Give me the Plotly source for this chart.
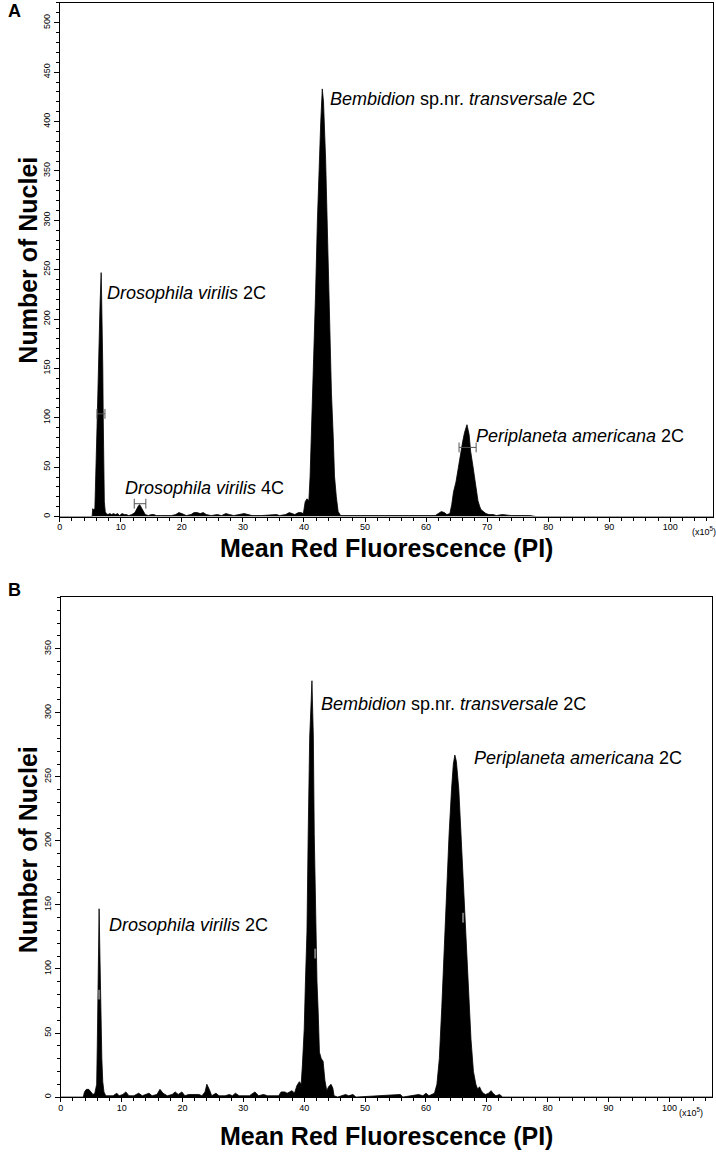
import plotly.graph_objects as go

W, H = 716, 1153

# ---------------- Panel A data (fluorescence x10^5, number of nuclei) ----------------
a_x = [0, 5.3, 5.4, 5.5, 5.75, 5.85, 5.95, 6.1, 6.25, 6.35,
       6.5, 6.6, 6.7, 6.78, 6.85, 6.95, 7.05, 7.12, 7.2, 7.3,
       7.45, 7.6, 7.9, 8.2, 8.5, 8.8, 9.1, 9.5, 9.8, 10.2,
       10.6, 10.9, 11.3, 11.8, 12.3, 12.6, 12.9, 13.1, 13.3, 13.6,
       14.0, 14.5, 15.0, 15.4, 15.8, 16.5, 17.6, 18.3, 19.0, 19.5,
       20.0, 20.7, 21.5, 22.0, 22.5, 23.0, 23.5, 24.0, 24.8, 25.8,
       26.5, 27.2, 27.8, 28.5, 30.2, 30.8, 31.5, 33.0, 35.0, 35.5,
       36.0, 37.0, 37.6, 38.0, 38.5, 39.1, 39.5, 39.9, 40.05, 40.2,
       40.5, 40.8, 41.0, 41.2, 41.5, 41.9, 42.2, 42.5, 42.75, 43.0,
       43.2, 43.55, 43.8, 44.05, 44.3, 44.5, 44.8, 45.0, 45.3, 45.6,
       46.0, 47.5, 51.0, 55.5, 60.0, 61.5, 62.0, 62.5, 63.0, 63.4,
       63.9, 64.2, 64.5, 64.9, 65.3, 65.7, 66.0, 66.3, 66.7, 67.05,
       67.3, 67.7, 68.0, 68.2, 68.5, 68.8, 69.0, 69.4, 69.8, 70.3,
       71.0, 71.5, 72.5, 74.0, 76.0, 77.0, 78.0, 107]
a_y = [0, 0, 8, 7, 8, 25, 55, 90, 120, 150,
       190, 215, 240, 247, 225, 200, 150, 100, 50, 15,
       5, 3, 2, 3, 2, 3, 2, 3, 1, 3,
       2, 2, 1, 2, 4, 8, 11, 12, 10, 6,
       2, 1, 2, 2, 1, 1, 1, 1, 2, 4,
       3, 1, 2, 4, 4, 3, 4, 2, 1, 2,
       1, 3, 2, 1, 3, 2, 1, 1, 2, 2,
       1, 2, 4, 3, 2, 4, 4, 3, 8, 15,
       18, 16, 40, 80, 125, 226, 300, 361, 400, 433,
       420, 361, 290, 226, 180, 125, 80, 41, 20, 5,
       1, 1, 1, 1, 1, 1, 3, 5, 4, 2,
       3, 12, 25, 35, 50, 66, 76, 85, 93, 83,
       66, 50, 35, 30, 16, 10, 7, 5, 3, 2,
       2, 1, 2, 1, 1, 1, 0, 0]

# gates (range markers) in panel A
a_gate_lo = [6.1, 12.2, 65.4]
a_gate_hi = [7.4, 14.1, 68.2]
a_gate_y = [104, 13, 70]

# ---------------- Panel B data ----------------
b_x = [0, 3.7, 3.9, 4.2, 4.6, 5.0, 5.3, 5.6, 5.9, 6.0,
       6.1, 6.2, 6.3, 6.4, 6.5, 6.6, 6.75, 6.9, 7.1, 7.4,
       8.0, 8.6, 9.2, 9.6, 10.2, 10.7, 11.2, 12.0, 12.8, 13.4,
       14.5, 15.0, 15.8, 16.3, 16.8, 17.5, 18.3, 18.8, 19.3, 19.9,
       20.4, 21.0, 22.7, 23.2, 23.7, 24.0, 24.4, 24.8, 25.5, 26.0,
       27.0, 27.7, 28.2, 28.7, 29.3, 31.0, 31.9, 32.5, 33.3, 34.0,
       35.8, 36.2, 36.8, 37.2, 37.6, 38.0, 38.4, 38.8, 39.2, 39.5,
       39.7, 40.0, 40.2, 40.45, 40.65, 40.9, 41.15, 41.27, 41.4, 41.5,
       41.65, 41.9, 42.1, 42.3, 42.5, 42.8, 43.1, 43.4, 43.7, 44.0,
       44.4, 44.7, 44.9, 45.5, 46.8, 47.3, 48.0, 48.5, 55.8, 56.2,
       58.8, 59.5, 60.0, 60.5, 61.0, 61.4, 61.8, 62.2, 62.6, 63.0,
       63.4, 63.8, 64.2, 64.5, 64.75, 65.0, 65.4, 65.8, 66.2, 66.6,
       67.0, 67.4, 67.8, 68.2, 68.5, 68.8, 69.1, 69.4, 69.8, 70.3,
       70.7, 71.0, 71.5, 72.1, 72.6, 107]
b_y = [0, 0, 4, 6, 6, 4, 2, 3, 10, 40,
       80, 125, 147, 120, 90, 60, 30, 12, 4, 1,
       1, 1, 3, 1, 2, 4, 1, 1, 3, 1,
       3, 1, 2, 6, 3, 1, 2, 4, 2, 4,
       1, 2, 2, 1, 4, 10, 6, 1, 3, 1,
       1, 2, 1, 3, 1, 1, 4, 1, 2, 1,
       1, 4, 4, 3, 4, 5, 3, 9, 12, 10,
       25, 53, 90, 129, 205, 281, 310, 325, 300, 281,
       205, 129, 90, 66, 35, 30, 28, 13, 5, 8,
       10, 7, 1, 0, 2, 1, 2, 0, 2, 0,
       2, 1, 3, 1, 2, 3, 10, 30, 70, 120,
       165, 205, 240, 260, 267, 262, 240, 200, 160, 120,
       80, 45, 20, 10, 6, 8, 5, 3, 2, 3,
       5, 3, 1, 2, 0, 0]

# small grey gate marks on panel B peaks
b_mark_x = [6.3, 41.8, 66.1]
b_mark_y = [80, 112, 140]

assert len(a_x) == len(a_y) and len(b_x) == len(b_y)

# labels (x = left edge of text, y = vertical centre, data units)
a_labels = ["<i>Drosophila virilis</i> 2C", "<i>Drosophila virilis</i> 4C",
            "<i>Bembidion</i> sp.nr. <i>transversale</i> 2C", "<i>Periplaneta americana</i> 2C"]
a_lab_x = [7.4, 10.4, 43.9, 67.9]
a_lab_y = [226, 29, 423, 82]

b_labels = ["<i>Drosophila virilis</i> 2C", "<i>Bembidion</i> sp.nr. <i>transversale</i> 2C",
            "<i>Periplaneta americana</i> 2C"]
b_lab_x = [7.6, 42.4, 67.6]
b_lab_y = [134, 307, 265]

x_ticks = [0, 10, 20, 30, 40, 50, 60, 70, 80, 90, 100]

# ---------------- figure ----------------
fig = go.Figure()
fig.add_trace(go.Scatter(x=a_x, y=a_y, mode="lines", fill="tozeroy",
                         line=dict(color="black", width=0.8), fillcolor="black",
                         xaxis="x", yaxis="y", showlegend=False, hoverinfo="skip"))
fig.add_trace(go.Scatter(x=b_x, y=b_y, mode="lines", fill="tozeroy",
                         line=dict(color="black", width=0.8), fillcolor="black",
                         xaxis="x2", yaxis="y2", showlegend=False, hoverinfo="skip"))

# gate markers |--|
gx, gy = [], []
for lo, hi, yv in zip(a_gate_lo, a_gate_hi, a_gate_y):
    cap = 5
    gx += [lo, lo, None, lo, hi, None, hi, hi, None]
    gy += [yv - cap, yv + cap, None, yv, yv, None, yv - cap, yv + cap, None]
fig.add_trace(go.Scatter(x=gx, y=gy, mode="lines", line=dict(color="#555", width=1),
                         xaxis="x", yaxis="y", showlegend=False, hoverinfo="skip"))
fig.add_trace(go.Scatter(x=b_mark_x, y=b_mark_y, mode="markers",
                         marker=dict(symbol="line-ns", size=7, line=dict(color="#777", width=2)),
                         xaxis="x2", yaxis="y2", showlegend=False, hoverinfo="skip"))

tickfont = dict(family="Liberation Sans Narrow, Arial Narrow, Liberation Sans, Arial", size=9, color="black")

def xax(domain, anchor):
    return dict(domain=domain, anchor=anchor, range=[0, 107], tickvals=x_ticks,
                ticks="outside", ticklen=4, tickwidth=1, tickcolor="black",
                ticklabelstandoff=-2,
                minor=dict(dtick=2, ticks="outside", ticklen=3, tickcolor="black", tick0=0),
                showline=True, linecolor="black", linewidth=1, mirror=True,
                showgrid=False, zeroline=False, tickfont=tickfont, fixedrange=True)

def yax(domain, anchor, top):
    return dict(domain=domain, anchor=anchor, range=[0, top], dtick=50, tick0=0,
                ticks="outside", ticklen=5, tickwidth=1, tickcolor="black", tickangle=-90,
                minor=dict(dtick=10, ticks="outside", ticklen=3, tickcolor="black", tick0=0),
                showline=True, linecolor="black", linewidth=1, mirror=True,
                showgrid=False, zeroline=False, tickfont=tickfont, fixedrange=True)

fig.update_layout(
    width=W, height=H, margin=dict(l=0, r=0, t=0, b=0),
    paper_bgcolor="white", plot_bgcolor="white",
    xaxis=xax([57 / W, 713 / W], "y"),
    yaxis=yax([1 - 517 / H, 1 - 3 / H], "x", 520),
    xaxis2=xax([58 / W, 712 / W], "y2"),
    yaxis2=yax([1 - 1098 / H, 1 - 598 / H], "x2", 390),
)

lab_font = dict(family="Liberation Sans, Arial", size=18, color="black")
ann = []
for t, xv, yv in zip(a_labels, a_lab_x, a_lab_y):
    ann.append(dict(text=t, x=xv, y=yv, xref="x", yref="y", xanchor="left", yanchor="middle",
                    showarrow=False, font=lab_font))
for t, xv, yv in zip(b_labels, b_lab_x, b_lab_y):
    ann.append(dict(text=t, x=xv, y=yv, xref="x2", yref="y2", xanchor="left", yanchor="middle",
                    showarrow=False, font=lab_font))

def px(xp, yp):
    return xp / W, 1 - yp / H

title_font = dict(family="Liberation Sans, Arial", size=25, color="black")
for (xp, yp, text, ang) in [
    (385, 548, "<b>Mean Red Fluorescence (PI)</b>", 0),
    (385, 1137, "<b>Mean Red Fluorescence (PI)</b>", 0),
    (25, 260, "<b>Number of Nuclei</b>", -90),
    (25, 850, "<b>Number of Nuclei</b>", -90),
]:
    xx, yy = px(xp, yp)
    ann.append(dict(text=text, x=xx, y=yy, xref="paper", yref="paper", xanchor="center",
                    yanchor="middle", textangle=ang, showarrow=False, font=title_font))

for (xp, yp, text) in [(3, 11, "<b>A</b>"), (3, 591, "<b>B</b>")]:
    xx, yy = px(xp, yp)
    ann.append(dict(text=text, x=xx, y=yy, xref="paper", yref="paper", xanchor="left",
                    yanchor="middle", showarrow=False,
                    font=dict(family="Liberation Sans, Arial", size=18, color="black")))

for (xp, yp) in [(690, 531), (677, 1113)]:
    xx, yy = px(xp, yp)
    ann.append(dict(text="(x10<sup>5</sup>)", x=xx, y=yy, xref="paper", yref="paper",
                    xanchor="left", yanchor="middle", showarrow=False, font=tickfont))

fig.update_layout(annotations=ann)
fig.write_html("out.html", config={"displayModeBar": False},
               post_script="document.body.style.margin='0';document.body.style.overflow='hidden';")
